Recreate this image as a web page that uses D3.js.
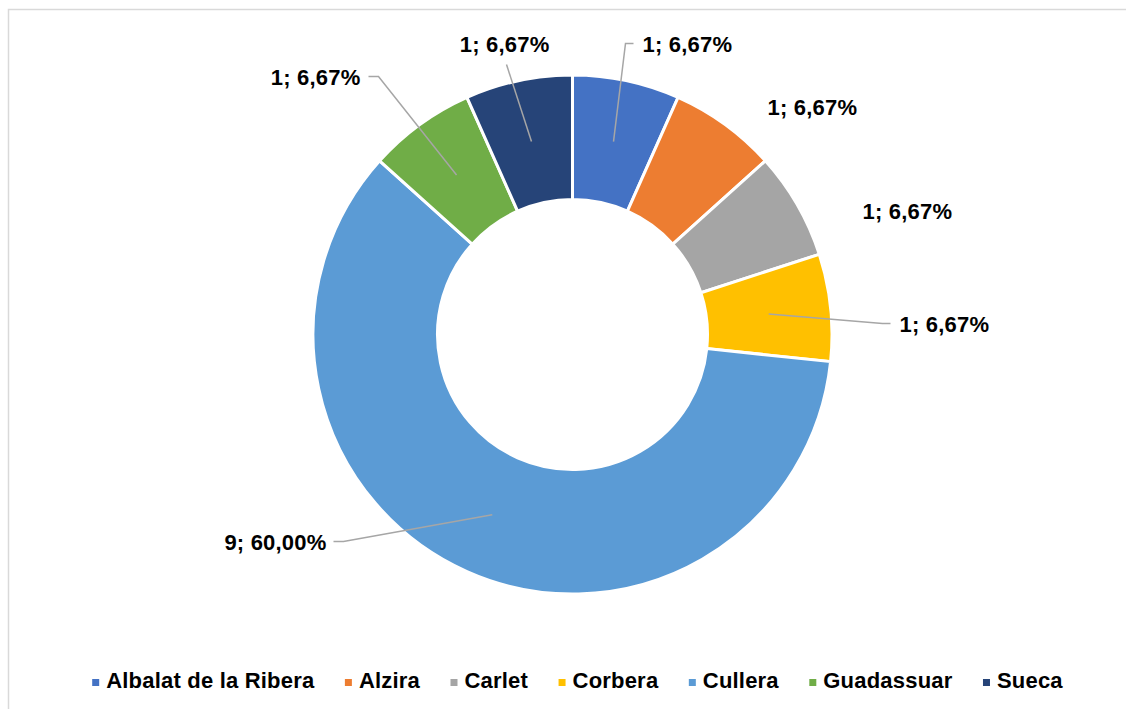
<!DOCTYPE html>
<html>
<head>
<meta charset="utf-8">
<script src="https://cdn.jsdelivr.net/npm/d3@7"></script>
<style>
  html, body { margin: 0; padding: 0; background: #fff; }
  svg { display: block; }
  text { font-family: Arial, "Liberation Sans", sans-serif; font-weight: bold; fill: #000; }
</style>
</head>
<body>
<svg id="chart" width="1126" height="709"></svg>
<script>
// Municipalities and their counts
const categories = ["Albalat de la Ribera", "Alzira", "Carlet", "Corbera", "Cullera", "Guadassuar", "Sueca"];
const values = [1, 1, 1, 1, 9, 1, 1];
const colors = ["#4472C4", "#ED7D31", "#A5A5A5", "#FFC000", "#5B9BD5", "#70AD47", "#264478"];

const svg = d3.select("#chart");
const W = 1126, H = 709;

// Chart area frame
svg.append("rect")
  .attr("x", 8.5).attr("y", 9.5)
  .attr("width", W + 10).attr("height", H + 10)
  .attr("fill", "none").attr("stroke", "#d9d9d9").attr("stroke-width", 1.5);

const cx = 572.5, cy = 334.5;
const outerR = 259.5, innerR = 135;

const total = d3.sum(values);
const pie = d3.pie().sort(null).value(d => d.value);
const arcs = pie(categories.map((c, i) => ({ name: c, value: values[i], color: colors[i] })));

const arc = d3.arc().innerRadius(innerR).outerRadius(outerR);
const g = svg.append("g").attr("transform", `translate(${cx},${cy})`);

g.selectAll("path.slice")
  .data(arcs)
  .join("path")
  .attr("class", "slice")
  .attr("d", arc)
  .attr("fill", d => d.data.color)
  .attr("stroke", "#fff")
  .attr("stroke-width", 3)
  .attr("stroke-linejoin", "miter");

// Data labels: "value; percent" with Spanish decimal comma
const fmtPct = v => (v / total * 100).toFixed(2).replace(".", ",") + "%";
const labelText = d => `${d.data.value}; ${fmtPct(d.data.value)}`;

// Label placement (text anchor point relative to centre) and leader elbows
const labelLayout = [
  { x: 70,  y: -283, anchor: "start", leader: [[53, -291], [61, -291]] },
  { x: 195, y: -220, anchor: "start", leader: null },
  { x: 290, y: -116, anchor: "start", leader: null },
  { x: 327, y: -3,   anchor: "start", leader: [[310, -11], [318, -11]] },
  { x: -246, y: 215, anchor: "end",  leader: [[-229, 207], [-239, 207]] },
  { x: -212, y: -250, anchor: "end", leader: [[-194, -258], [-204, -258]] },
  { x: -23, y: -283, anchor: "end",  leader: [[-66, -270]] }
];

const midR = (innerR + outerR) / 2;
const centroidArc = d3.arc().innerRadius(midR).outerRadius(midR);

arcs.forEach((d, i) => {
  const L = labelLayout[i];
  if (L.leader) {
    const pts = [centroidArc.centroid(d), ...L.leader];
    g.append("path")
      .attr("d", d3.line()(pts))
      .attr("fill", "none")
      .attr("stroke", "#a6a6a6")
      .attr("stroke-width", 1.5);
  }
  g.append("text")
    .attr("x", L.x).attr("y", L.y)
    .attr("text-anchor", L.anchor)
    .attr("font-size", 22)
    .attr("letter-spacing", 0.2)
    .text(labelText(d));
});

// Legend along the bottom, centred
const legend = svg.append("g");
const items = legend.selectAll("g.item")
  .data(categories.map((c, i) => ({ name: c, color: colors[i] })))
  .join("g").attr("class", "item");

items.append("rect")
  .attr("width", 7).attr("height", 7)
  .attr("y", -9)
  .attr("fill", d => d.color);

items.append("text")
  .attr("x", 14)
  .attr("y", 0)
  .attr("font-size", 22)
  .attr("letter-spacing", 0.2)
  .text(d => d.name);

const gap = 30.5;
const widths = [];
items.each(function () {
  const w = 14 + d3.select(this).select("text").node().getComputedTextLength();
  widths.push(w);
});
const totalW = d3.sum(widths) + gap * (widths.length - 1);
const startX = 577.5 - totalW / 2;
items.attr("transform", (d, i) => {
  const x = startX + d3.sum(widths.slice(0, i)) + gap * i;
  return `translate(${x},688)`;
});
</script>
</body>
</html>
